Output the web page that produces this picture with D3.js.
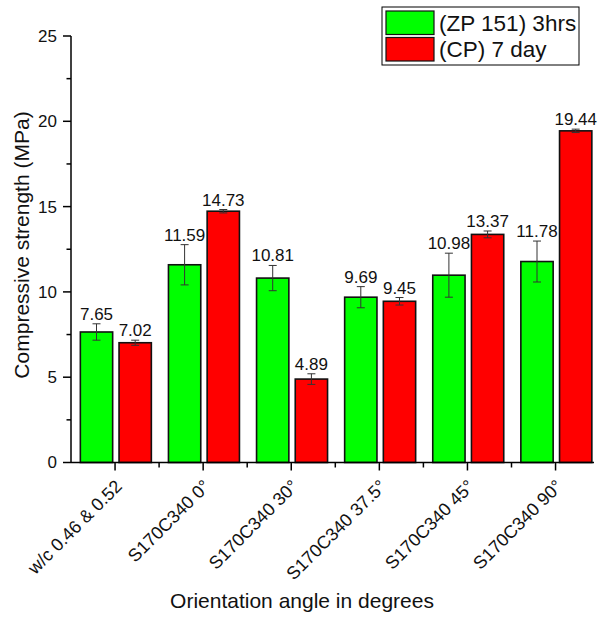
<!DOCTYPE html>
<html>
<head>
<meta charset="utf-8">
<script src="https://cdn.jsdelivr.net/npm/d3@7"></script>
<style>
  html, body { margin: 0; padding: 0; background: #fff; }
  svg { display: block; font-family: "Liberation Sans", Arial, sans-serif; }
</style>
</head>
<body>
<svg id="chart" width="599" height="619"></svg>
<script>
// Compressive strength per specimen orientation, two curing series
const categories = ["w/c 0.46 & 0.52", "S170C340 0°", "S170C340 30°", "S170C340 37.5°", "S170C340 45°", "S170C340 90°"];
const seriesNames = ["(ZP 151) 3hrs", "(CP) 7 day"];
const seriesColors = ["#00ff00", "#ff0000"];
const zp3hrs = [7.65, 11.59, 10.81, 9.69, 10.98, 11.78];
const cp7day = [7.02, 14.73, 4.89, 9.45, 13.37, 19.44];
const zp3hrsErr = [0.48, 1.18, 0.74, 0.62, 1.29, 1.20];
const cp7dayErr = [0.15, 0.10, 0.31, 0.22, 0.20, 0.10];
const yTicks = [0, 5, 10, 15, 20, 25];

const seriesValues = [zp3hrs, cp7day];
const seriesErrors = [zp3hrsErr, cp7dayErr];

const svg = d3.select("#chart");
const plotLeft = 71, plotRight = 599.6, axisEnd = 594, plotTop = 36, plotBottom = 462.5;

const x = d3.scaleBand().domain(categories).range([plotLeft, plotRight]);
const inner = d3.scaleBand().domain(seriesNames).range([-34.7, 36.3]).paddingInner(0.165);
const y = d3.scaleLinear().domain([0, 25]).range([plotBottom, plotTop]);

const center = c => x(c) + x.bandwidth() / 2;

// bars, error bars and value labels
const data = [];
categories.forEach((c, i) => {
  seriesNames.forEach((s, j) => {
    data.push({ cat: c, series: s, idx: j, value: seriesValues[j][i], err: seriesErrors[j][i] });
  });
});

const g = svg.append("g");
g.selectAll("rect.bar").data(data).enter().append("rect")
  .attr("class", "bar")
  .attr("x", d => center(d.cat) + inner(d.series))
  .attr("y", d => y(d.value))
  .attr("width", inner.bandwidth())
  .attr("height", d => y(0) - y(d.value))
  .attr("fill", d => seriesColors[d.idx])
  .attr("stroke", "#111")
  .attr("stroke-width", 1.6);

const eb = g.selectAll("g.err").data(data).enter().append("g")
  .attr("class", "err")
  .attr("stroke", "#333")
  .attr("stroke-width", 1);
const bx = d => center(d.cat) + inner(d.series) + inner.bandwidth() / 2;
eb.append("line")
  .attr("x1", bx).attr("x2", bx)
  .attr("y1", d => y(d.value + d.err)).attr("y2", d => y(d.value - d.err));
eb.append("line")
  .attr("x1", d => bx(d) - 4).attr("x2", d => bx(d) + 4)
  .attr("y1", d => y(d.value + d.err)).attr("y2", d => y(d.value + d.err));
eb.append("line")
  .attr("x1", d => bx(d) - 4).attr("x2", d => bx(d) + 4)
  .attr("y1", d => y(d.value - d.err)).attr("y2", d => y(d.value - d.err));

g.selectAll("text.val").data(data).enter().append("text")
  .attr("class", "val")
  .attr("x", bx)
  .attr("y", d => y(d.value + d.err) - 4)
  .attr("text-anchor", "middle")
  .attr("font-size", 17)
  .attr("fill", "#111")
  .text(d => d.value.toFixed(2));

// y axis
const yMinor = d3.range(2.5, 25, 5);
const ya = svg.append("g");
ya.append("line").attr("x1", plotLeft).attr("x2", plotLeft).attr("y1", y(25)).attr("y2", y(0))
  .attr("stroke", "#000").attr("stroke-width", 1.5);
ya.selectAll("line.maj").data(yTicks).enter().append("line")
  .attr("x1", plotLeft - 8).attr("x2", plotLeft).attr("y1", d => y(d)).attr("y2", d => y(d))
  .attr("stroke", "#000").attr("stroke-width", 1.5);
ya.selectAll("line.min").data(yMinor).enter().append("line")
  .attr("x1", plotLeft - 4.5).attr("x2", plotLeft).attr("y1", d => y(d)).attr("y2", d => y(d))
  .attr("stroke", "#000").attr("stroke-width", 1.5);
ya.selectAll("text").data(yTicks).enter().append("text")
  .attr("x", plotLeft - 14).attr("y", d => y(d)).attr("dy", "0.35em")
  .attr("text-anchor", "end").attr("font-size", 17).attr("fill", "#111")
  .text(d => d);

// x axis
const xa = svg.append("g");
xa.append("line").attr("x1", plotLeft).attr("x2", axisEnd).attr("y1", plotBottom).attr("y2", plotBottom)
  .attr("stroke", "#000").attr("stroke-width", 1.5);
xa.selectAll("line.maj").data(categories).enter().append("line")
  .attr("x1", center).attr("x2", center).attr("y1", plotBottom).attr("y2", plotBottom + 8)
  .attr("stroke", "#000").attr("stroke-width", 1.5);
xa.selectAll("line.min").data(categories.slice(1)).enter().append("line")
  .attr("x1", d => x(d)).attr("x2", d => x(d)).attr("y1", plotBottom).attr("y2", plotBottom + 5)
  .attr("stroke", "#000").attr("stroke-width", 1.5);
xa.selectAll("text").data(categories).enter().append("text")
  .attr("transform", d => `translate(${center(d) + 8},${plotBottom + 25}) rotate(-45)`)
  .attr("text-anchor", "end").attr("font-size", 18).attr("fill", "#111")
  .text(d => d);

// axis titles
svg.append("text")
  .attr("transform", `translate(29,245) rotate(-90)`)
  .attr("text-anchor", "middle").attr("font-size", 21).attr("fill", "#111")
  .text("Compressive strength (MPa)");
svg.append("text")
  .attr("x", 302).attr("y", 608)
  .attr("text-anchor", "middle").attr("font-size", 21).attr("fill", "#111")
  .text("Orientation angle in degrees");

// legend
const lg = svg.append("g").attr("transform", "translate(382,7)");
lg.append("rect").attr("width", 197).attr("height", 58)
  .attr("fill", "#fff").attr("stroke", "#000").attr("stroke-width", 1);
seriesNames.forEach((s, j) => {
  lg.append("rect").attr("x", 4).attr("y", 4 + j * 26.5).attr("width", 48).attr("height", 23.5)
    .attr("fill", seriesColors[j]).attr("stroke", "#111").attr("stroke-width", 1.2);
  lg.append("text").attr("x", 57).attr("y", 16 + j * 26.5).attr("dy", "0.35em")
    .attr("font-size", 22.5).attr("fill", "#111").text(s);
});
</script>
</body>
</html>
